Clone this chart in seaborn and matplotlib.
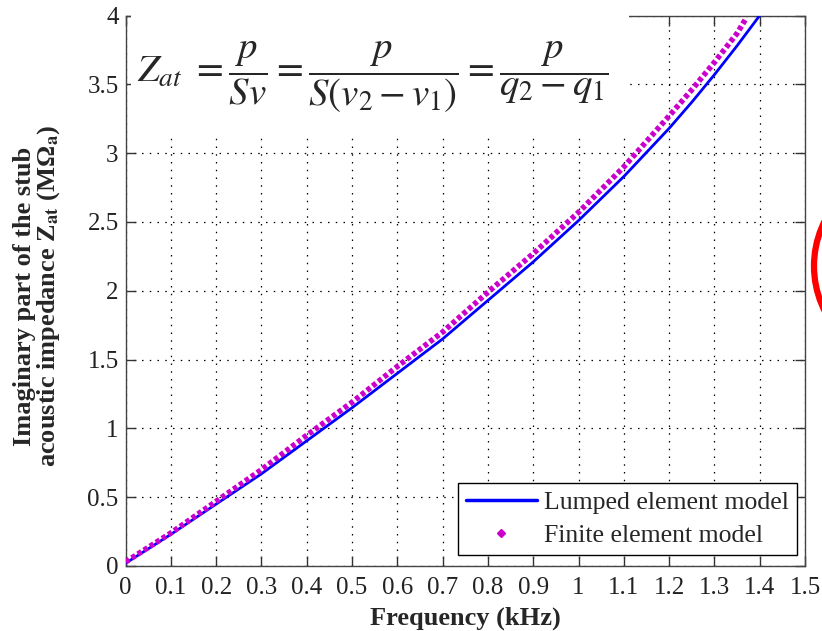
import numpy as np
import pandas as pd
import matplotlib
matplotlib.use("Agg")
import matplotlib.pyplot as plt
import seaborn as sns
from matplotlib.lines import Line2D
from matplotlib.patches import Rectangle, Ellipse

# ---- data ----
freq_lumped = [0.0, 0.1, 0.2, 0.3, 0.4, 0.5, 0.6, 0.7, 0.8, 0.9, 1.0, 1.1, 1.2, 1.25, 1.3, 1.35, 1.4]
z_lumped = [0.02, 0.23, 0.45, 0.67, 0.91, 1.15, 1.40, 1.65, 1.93, 2.21, 2.51, 2.83, 3.18, 3.37, 3.57, 3.78, 4.0]

freq_fem = [0.0, 0.1, 0.2, 0.3, 0.4, 0.5, 0.6, 0.7, 0.8, 0.9, 1.0, 1.1, 1.2, 1.25, 1.3, 1.35, 1.37]
z_fem = [0.03, 0.24, 0.47, 0.70, 0.95, 1.19, 1.45, 1.70, 1.99, 2.27, 2.57, 2.90, 3.27, 3.46, 3.66, 3.87, 3.98]

x_ticks = [0, 0.1, 0.2, 0.3, 0.4, 0.5, 0.6, 0.7, 0.8, 0.9, 1, 1.1, 1.2, 1.3, 1.4, 1.5]
x_tick_labels = ["0", "0.1", "0.2", "0.3", "0.4", "0.5", "0.6", "0.7", "0.8", "0.9", "1", "1.1", "1.2", "1.3", "1.4", "1.5"]
y_ticks = [0, 0.5, 1, 1.5, 2, 2.5, 3, 3.5, 4]
y_tick_labels = ["0", "0.5", "1", "1.5", "2", "2.5", "3", "3.5", "4"]

series_names = ["Lumped element model", "Finite element model"]

df_l = pd.DataFrame({"f": freq_lumped, "z": z_lumped})
df_f = pd.DataFrame({"f": freq_fem, "z": z_fem})

sns.set_style("ticks")
plt.rcParams["font.family"] = ["Liberation Serif", "DejaVu Serif"]
plt.rcParams["mathtext.fontset"] = "stix"

W, H = 822, 631
fig = plt.figure(figsize=(W / 100, H / 100), dpi=100)
ax = fig.add_axes([125.6 / W, 1 - 566 / H, (805 - 125.6) / W, (566 - 15.5) / H])

sns.lineplot(data=df_l, x="f", y="z", ax=ax, color="#0000ff", lw=2.0,
             sort=False, estimator=None, zorder=3)
sns.lineplot(data=df_f, x="f", y="z", ax=ax, color="#cc00cc", lw=4.0,
             linestyle=(0, (0.8, 0.5)), sort=False, estimator=None, zorder=4)

ax.set_xlim(0, 1.5)
ax.set_ylim(0, 4)
ax.set_xticks(x_ticks)
ax.set_xticklabels(x_tick_labels)
ax.set_yticks(y_ticks)
ax.set_yticklabels(y_tick_labels)
ax.tick_params(direction="in", length=7, width=1, top=True, right=True,
               labelsize=18, colors="#333333", labelcolor="#222222")
ax.tick_params(axis="x", pad=8)
ax.tick_params(axis="y", pad=5)
for s in ax.spines.values():
    s.set_color("#444444")
    s.set_linewidth(1.0)
ax.grid(True, color="black", linestyle=(0, (1.2, 5)), lw=0.9)

ax.set_xlabel("Frequency (kHz)", fontsize=19, fontweight="bold")
ax.xaxis.set_label_coords(0.5, (566 - 607) / 550.5)
ax.set_ylabel("Imaginary part of the stub\nacoustic impedance Z$_{\\mathbf{at}}$ (MΩ$_{\\mathbf{a}}$)",
              fontsize=19, fontweight="bold", linespacing=0.95)
ax.yaxis.set_label_coords((62 - 125.6) / 679.4, 0.49)

handles = [Line2D([0], [0], color="#0000ff", lw=2.5),
           Line2D([0], [0], color="#cc00cc", lw=0, marker="D", markersize=4)]
leg = ax.legend(handles, series_names, loc="lower right", bbox_to_anchor=(0.988, 0.02),
                fontsize=18.5, frameon=True, fancybox=False, framealpha=1,
                edgecolor="black", handlelength=2.75, borderaxespad=0,
                handletextpad=0.3, labelspacing=0.4, borderpad=0.3)
leg.get_frame().set_linewidth(1.0)

# white box hiding grid/top spine behind the equation
ax.add_patch(Rectangle(((131 - 125.6) / 679.4, (566 - 137) / 550.5),
                       (629 - 131) / 679.4, 0.25, transform=ax.transAxes,
                       facecolor="white", edgecolor="none", clip_on=False, zorder=5))
ax.text(0.017, 0.89,
        r"$Z_{at}\ =\dfrac{p}{Sv}=\dfrac{p}{S(v_2-v_1)}=\dfrac{p}{q_2-q_1}$",
        transform=ax.transAxes, fontsize=28, va="center", ha="left", zorder=6)

# red circle partially visible at right edge
fig.patches.append(Ellipse((914 / W, 1 - 266 / H), 2 * 100 / W, 2 * 100 / H,
                           transform=fig.transFigure, fill=False, edgecolor="#ff0000",
                           lw=4.5, zorder=10))

fig.savefig("out.png", dpi=100)
